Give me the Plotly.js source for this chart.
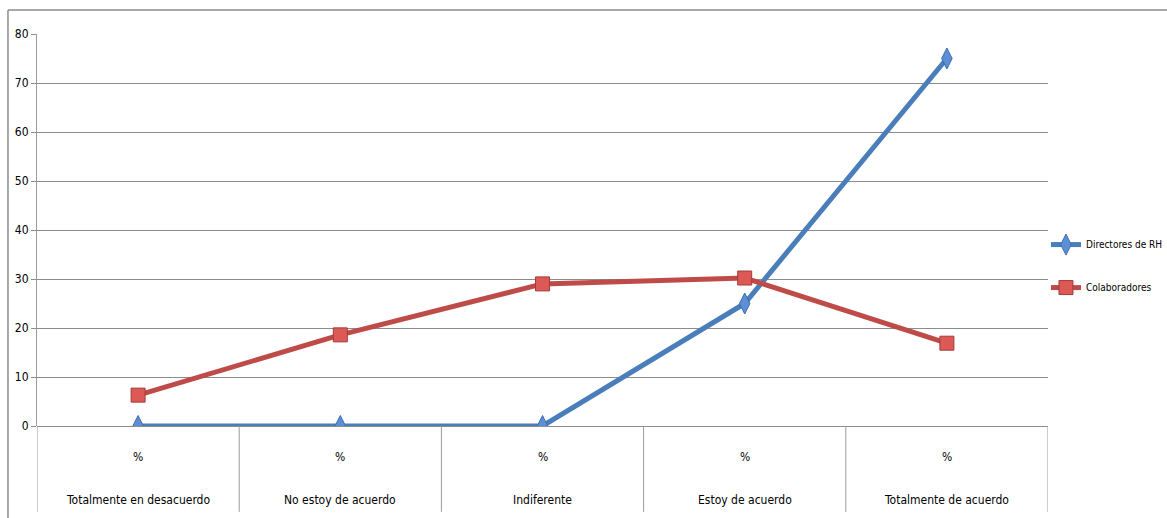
<!DOCTYPE html>
<html>
<head>
<meta charset="utf-8">
<script src="https://cdn.plot.ly/plotly-3.0.1.min.js"></script>
<style>html,body{margin:0;padding:0;background:#fff;}#chart{width:1167px;height:518px;}</style>
</head>
<body>
<div id="chart"></div>
<script>
const categories = ["Totalmente en desacuerdo", "No estoy de acuerdo", "Indiferente", "Estoy de acuerdo", "Totalmente de acuerdo"];
const subLabels = ["%", "%", "%", "%", "%"];
const directores = [0, 0, 0, 25, 75];
const colaboradores = [6.3, 18.6, 29, 30.2, 16.9];
const seriesNames = ["Directores de RH", "Colaboradores"];
const yTicks = [0, 10, 20, 30, 40, 50, 60, 70, 80];

const FONT = '"Liberation Sans Narrow", "DejaVu Sans Condensed", sans-serif';
const FS = 12;
const xIdx = categories.map((c, i) => i);

const traces = [
  {
    x: xIdx, y: directores, name: seriesNames[0], type: 'scatter', mode: 'lines+markers',
    line: {color: '#4a7ebb', width: 5},
    marker: {symbol: 'diamond-tall', size: 15, color: '#5b8fd6', line: {color: '#3d6cae', width: 1}},
    legendgroup: 'a'
  },
  {
    x: xIdx, y: colaboradores, name: seriesNames[1], type: 'scatter', mode: 'lines+markers',
    line: {color: '#be4b48', width: 5},
    marker: {symbol: 'square', size: 14, color: '#dc5955', line: {color: '#a33c39', width: 1}},
    legendgroup: 'b'
  }
];

const shapes = [];
for (let i = 0; i <= categories.length; i++) {
  shapes.push({type: 'line', xref: 'x', yref: 'paper', x0: i - 0.5, x1: i - 0.5, y0: 0, y1: -0.219,
    line: {color: '#9a9a9a', width: 1}});
}
shapes.push({type: 'line', xref: 'paper', yref: 'paper', x0: -0.0287, x1: 1.2, y0: 1.061, y1: 1.061, line: {color: '#8c8c8c', width: 1.5}});
shapes.push({type: 'line', xref: 'paper', yref: 'paper', x0: -0.0287, x1: -0.0287, y0: 1.061, y1: -0.3, line: {color: '#8c8c8c', width: 1.5}});

const annotations = [];
categories.forEach((c, i) => {
  annotations.push({x: i, y: -0.079, xref: 'x', yref: 'paper', text: subLabels[i], showarrow: false,
    font: {family: FONT, size: FS, color: '#000'}, yanchor: 'middle'});
  annotations.push({x: i, y: -0.189, xref: 'x', yref: 'paper', text: c, showarrow: false,
    font: {family: FONT, size: FS, color: '#000'}, yanchor: 'middle'});
});

const layout = {
  width: 1167, height: 518,
  margin: {l: 37, r: 119, t: 34, b: 92, autoexpand: false},
  paper_bgcolor: '#fff', plot_bgcolor: '#fff',
  font: {family: FONT, size: FS, color: '#000'},
  showlegend: true,
  legend: {x: 0.998, y: 0.408, xanchor: 'left', yanchor: 'middle', tracegroupgap: 24,
    font: {family: FONT, size: 10, color: '#000'}, itemwidth: 30, bgcolor: 'rgba(0,0,0,0)'},
  xaxis: {
    range: [-0.5, 4.5], tickvals: xIdx, showticklabels: false, showgrid: false,
    zeroline: false, showline: false, ticks: '', fixedrange: true
  },
  yaxis: {
    range: [0, 80], tickvals: yTicks, ticktext: yTicks.map(String),
    showgrid: true, gridcolor: '#8c8c8c', gridwidth: 1,
    zeroline: true, zerolinecolor: '#8c8c8c', zerolinewidth: 1,
    showline: true, linecolor: '#9a9a9a', linewidth: 1,
    ticks: 'outside', ticklen: 5, tickcolor: '#8c8c8c',
    tickfont: {family: FONT, size: FS, color: '#000'}, fixedrange: true
  },
  shapes: shapes,
  annotations: annotations
};

Plotly.newPlot('chart', traces, layout, {displayModeBar: false, staticPlot: true});
</script>
</body>
</html>
